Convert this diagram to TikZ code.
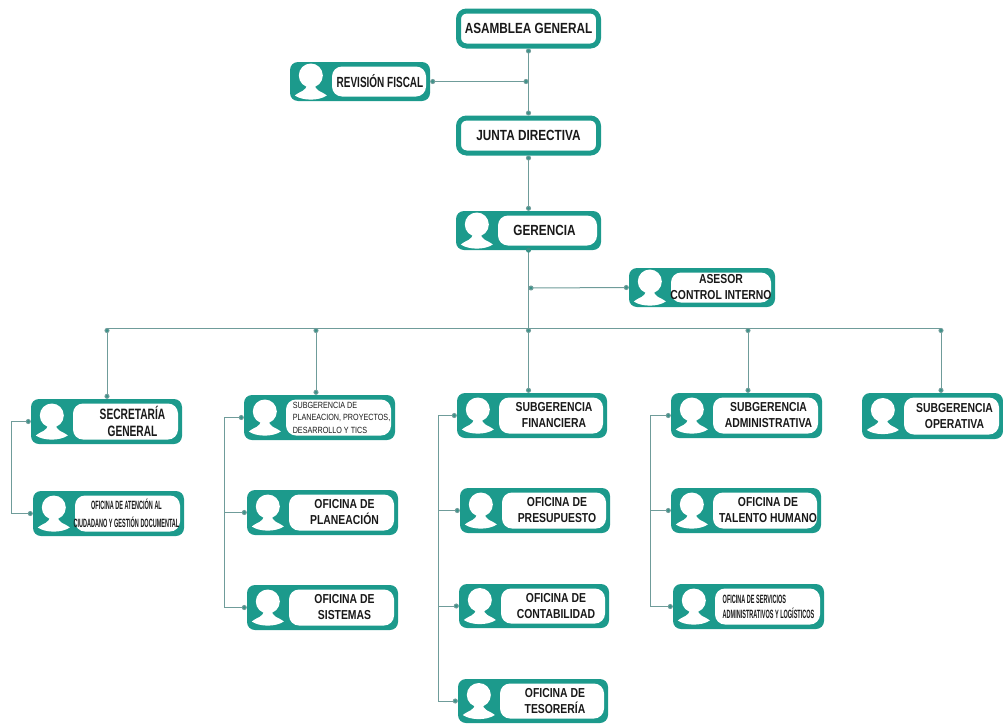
\documentclass[tikz,border=0pt]{standalone}
\usepackage{fontspec}
\usepackage{xcolor}
\usetikzlibrary{calc,arrows.meta}
\newfontfamily\cardfont[FakeStretch=.8]{Liberation Sans}
\newfontfamily\slimfont[FakeStretch=.68]{Liberation Sans}
\newfontfamily\thinfont[FakeStretch=.46]{Liberation Sans}
\definecolor{cardteal}{HTML}{1C9A8C}
\definecolor{linegray}{HTML}{6F9C9A}
\newcommand{\cardlarge}{\cardfont\bfseries\fontsize{14.7}{18}\selectfont}
\newcommand{\cardbig}{\slimfont\bfseries\fontsize{15}{17}\selectfont}
\newcommand{\cardmid}{\cardfont\bfseries\fontsize{13}{16}\selectfont}
\newcommand{\cardthin}{\thinfont\bfseries\fontsize{12}{18}\selectfont}
\tikzset{
  card/.style = {fill=cardteal, rounded corners=8pt, inner sep=0pt},
  cardtext/.style = {fill=white, rounded corners=10pt, inner sep=0pt},
  cardword/.style = {inner sep=0pt, align=center, text=black!90},
  plaincard/.style = {draw=cardteal, line width=5pt, fill=white, rounded corners=8pt, inner sep=0pt,
    minimum width=140pt, minimum height=35pt, text=black!90, font=\cardlarge},
  link/.style = {draw=linegray, line width=1pt},
  dots/.style = {link, {Circle[length=5pt,width=5pt,fill=cardteal!70!gray]}-{Circle[length=5pt,width=5pt,fill=cardteal!70!gray]}},
  dotend/.style = {link, -{Circle[length=5pt,width=5pt,fill=cardteal!70!gray]}},
  joint/.style = {circle, fill=cardteal!70!gray, inner sep=0pt, minimum size=5pt},
  persona/.pic = {
    \fill[white] (0,-6) ellipse (12pt and 12pt);
    \fill[white] (-16,14) .. controls (-10,9) and (-4,10) .. (-4,2) -- (4,2)
      .. controls (4,10) and (10,9) .. (16,14) .. controls (8,19.5) and (-8,19.5) .. (-16,14) -- cycle;
  }
}
% [text options] name, center x, center y, width, height, text
\newcommand{\orgcard}[7][font=\cardmid]{
  \node[card, minimum width=#5pt, minimum height=#6pt] (#2) at (#3,#4) {};
  \node[cardtext, anchor=east, minimum width=#5pt-46pt, minimum height=#6pt-9pt] (#2text)
    at ([xshift=-4pt]#2.east) {};
  \node[cardword, xshift=3pt, #1] (#2word) at (#2text.center) {#7};
  \pic[x=1pt,y=-1pt] at ([xshift=21pt]#2.west) {persona};
}

\begin{document}
\begin{tikzpicture}[x=1pt,y=-1pt]
\useasboundingbox (0,0) rectangle (1003,723);

\node[plaincard] (asamblea) at (528.5,28.5) {ASAMBLEA GENERAL};
\node[plaincard] (junta) at (528.5,135.5) {JUNTA DIRECTIVA};
\orgcard[font=\slimfont\bfseries\fontsize{14.7}{18}\selectfont, xshift=-2pt]{revision}{360}{81.5}{140}{39}{REVISIÓN FISCAL}
\orgcard[font=\cardlarge, xshift=-6pt]{gerencia}{528.5}{230.5}{145}{39}{GERENCIA}
\orgcard[font=\cardmid, xshift=-3pt]{asesor}{702}{287.5}{146}{39}{ASESOR\\CONTROL INTERNO}

\orgcard[font=\cardbig, xshift=4pt]{secretaria}{106.5}{421.5}{151}{45}{SECRETARÍA\\GENERAL}
\orgcard[font=\cardthin, xshift=-4pt]{atencion}{108.5}{513.5}{151}{45}{OFICINA DE ATENCIÓN AL\\CIUDADANO  Y GESTIÓN DOCUMENTAL}

\orgcard[font=\cardfont\fontsize{9}{12.6}\selectfont, align=left]{subplan}{319.5}{417.5}{151}{45}{SUBGERENCIA DE\\PLANEACION, PROYECTOS,\\DESARROLLO Y TICS}
\orgcard{planeacion}{322.5}{512.5}{151}{45}{OFICINA DE\\PLANEACIÓN}
\orgcard{sistemas}{322.5}{607.5}{151}{45}{OFICINA DE\\SISTEMAS}

\orgcard{financiera}{532}{415.5}{150}{45}{SUBGERENCIA\\FINANCIERA}
\orgcard{presupuesto}{535}{510.5}{150}{45}{OFICINA DE\\PRESUPUESTO}
\orgcard{contabilidad}{534}{606}{150}{44}{OFICINA DE\\CONTABILIDAD}
\orgcard{tesoreria}{533}{701}{150}{44}{OFICINA DE\\TESORERÍA}

\orgcard{administrativa}{746.5}{415.5}{151}{45}{SUBGERENCIA\\ADMINISTRATIVA}
\orgcard{talento}{746}{510.5}{150}{45}{OFICINA DE\\TALENTO HUMANO}
\orgcard[font=\thinfont\bfseries\fontsize{12}{15}\selectfont, align=left, xshift=-2pt]{servicios}{748.5}{606.5}{151}{45}{OFICINA DE SERVICIOS\\ADMINISTRATIVOS Y LOGÍSTICOS}

\orgcard{operativa}{932.5}{416}{141}{46}{SUBGERENCIA\\OPERATIVA}

% main trunk
\coordinate (fiscal) at (528.5,81.5);
\coordinate (control) at (528.5,288);
\coordinate (reparto) at (528.5,328);
\draw[dots] (asamblea.south) -- (junta.north);
\draw[dots] (junta.south) -- (gerencia.north);
\draw[link] (gerencia.south) -- (reparto);
\node[joint] at (gerencia.south) {};
\draw[dots] (revision.east) -- (fiscal);
\draw[dots] (asesor.west) -- (control);

% horizontal bar
\coordinate (barsec) at (107,328);
\coordinate (barplan) at (316,328);
\coordinate (baradm) at (748,328);
\coordinate (barope) at (941,328);
\draw[link] (barsec) -- (barope);
\draw[dots] (barsec) -- (barsec |- secretaria.north);
\draw[dots] (barplan) -- (barplan |- subplan.north);
\draw[dots] (reparto) -- (reparto |- financiera.north);
\draw[dots] (baradm) -- (baradm |- administrativa.north);
\draw[dots] (barope) -- (barope |- operativa.north);

% side rails
\coordinate (railsec) at (11,421.5);
\draw[dots] (secretaria.west) -- (railsec) |- (atencion.west);
\coordinate (railplan) at (224,417.5);
\draw[dots] (subplan.west) -- (railplan) |- (planeacion.west);
\draw[dotend] (railplan) |- (sistemas.west);
\coordinate (railfin) at (438,415.5);
\draw[dots] (financiera.west) -- (railfin) |- (presupuesto.west);
\draw[dotend] (railfin) |- (contabilidad.west);
\draw[dotend] (railfin) |- (tesoreria.west);
\coordinate (railadm) at (650,415.5);
\draw[dots] (administrativa.west) -- (railadm) |- (talento.west);
\draw[dotend] (railadm) |- (servicios.west);
\end{tikzpicture}
\end{document}
